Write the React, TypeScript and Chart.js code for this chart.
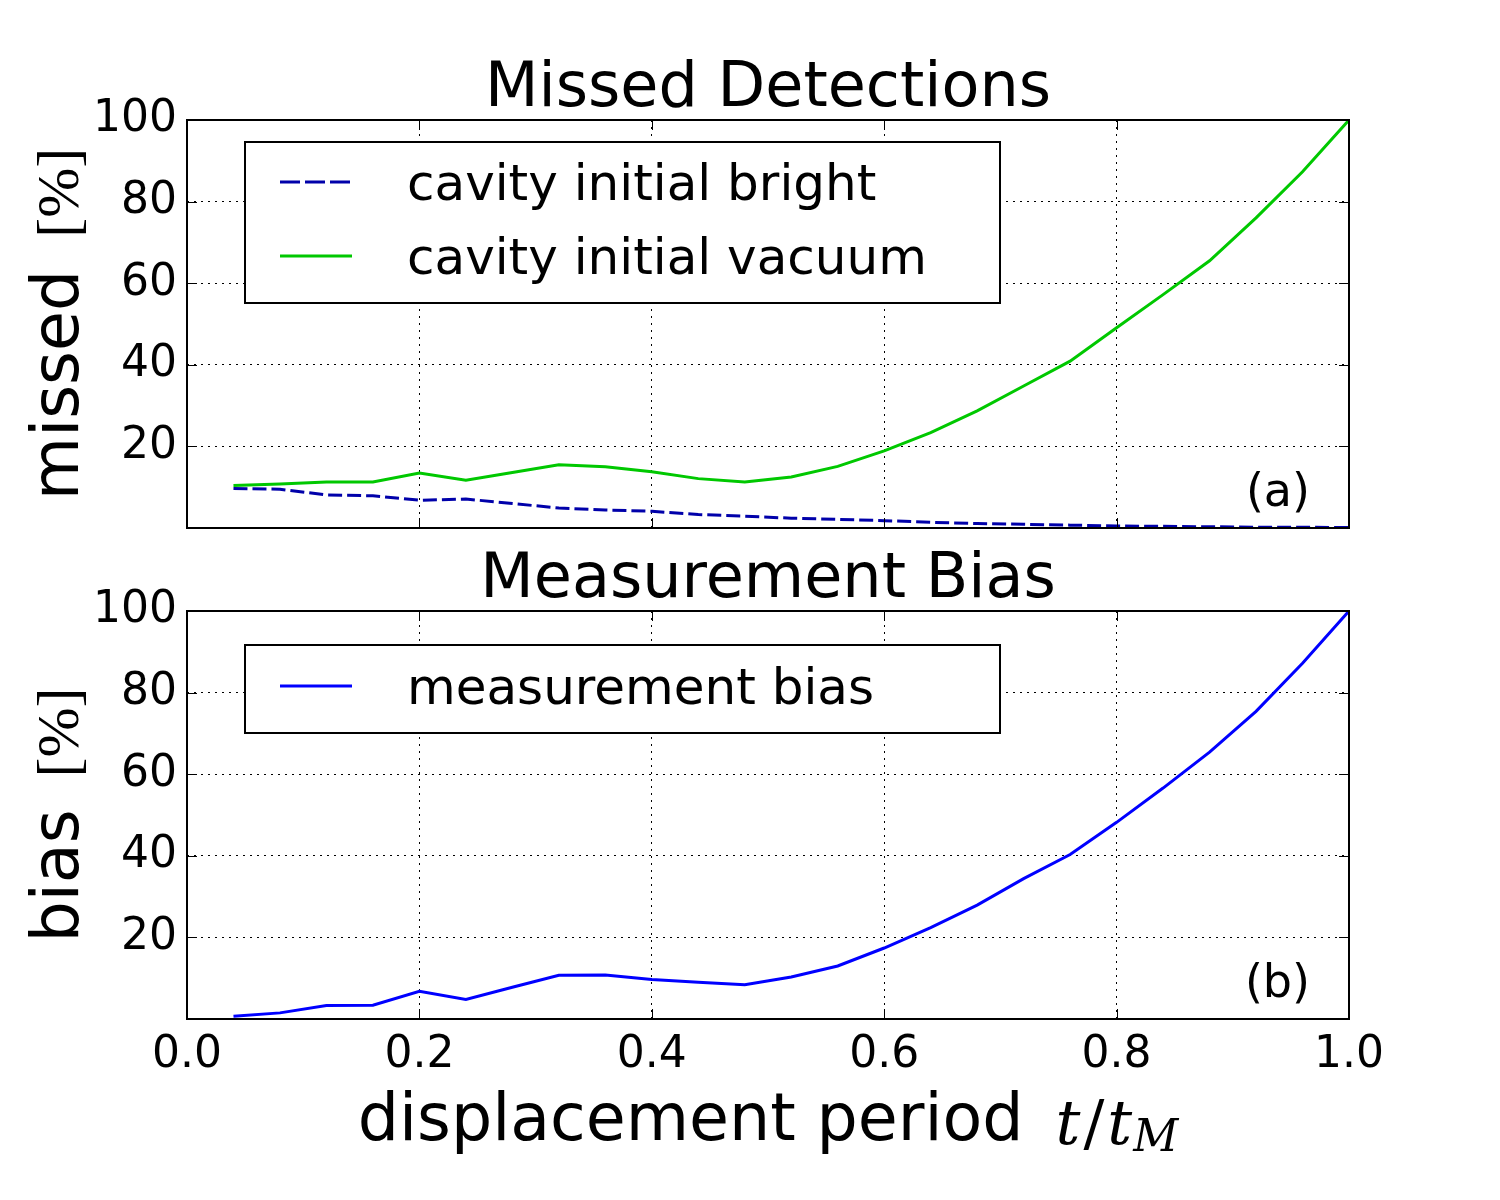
import React, { useEffect, useRef } from 'react';
import { Chart, registerables } from 'chart.js';

Chart.register(...registerables);

// ---------- data ----------
const tValues = [0.04, 0.08, 0.12, 0.16, 0.2, 0.24, 0.28, 0.32, 0.36, 0.4, 0.44, 0.48, 0.52, 0.56, 0.6, 0.64, 0.68, 0.72, 0.76, 0.8, 0.84, 0.88, 0.92, 0.96, 1.0];
const missedBright = [9.7, 9.5, 8.1, 7.9, 6.8, 7.1, 6.0, 4.9, 4.4, 4.1, 3.3, 2.9, 2.4, 2.1, 1.8, 1.4, 1.1, 0.9, 0.7, 0.5, 0.4, 0.3, 0.2, 0.2, 0.1];
const missedVacuum = [10.4, 10.8, 11.3, 11.3, 13.5, 11.7, 13.6, 15.5, 15.0, 13.8, 12.1, 11.3, 12.5, 15.1, 18.9, 23.4, 28.7, 34.8, 40.9, 49.1, 57.2, 65.5, 76.0, 87.3, 100];
const measurementBias = [0.65, 1.5, 3.3, 3.4, 6.8, 4.8, 7.8, 10.7, 10.8, 9.7, 9.0, 8.4, 10.3, 13.0, 17.4, 22.4, 27.9, 34.4, 40.3, 48.2, 56.6, 65.4, 75.4, 87.2, 100];

const xTickValues = [0, 0.2, 0.4, 0.6, 0.8, 1.0];
const xTickLabels = ['0.0', '0.2', '0.4', '0.6', '0.8', '1.0'];
const yTickValues = [20, 40, 60, 80, 100];
const yTickLabels = ['20', '40', '60', '80', '100'];

const seriesLabels = ['cavity initial bright', 'cavity initial vacuum', 'measurement bias'];
const seriesColors = ['#0000aa', '#00c800', '#0000ff'];

const SANS = '"DejaVu Sans"';
const SERIF = '"DejaVu Serif"';
const UNIT_SERIF = '"Liberation Serif"';

const toPoints = (ys: number[]) => tValues.map((t, i) => ({ x: t, y: ys[i] }));

// ---------- decoration plugin ----------
const decorPlugin = {
  id: 'decor',
  afterDatasetsDraw(chart: any, _args: any, opts: any) {
    const ctx = chart.ctx as CanvasRenderingContext2D;
    const { left, right, top, bottom } = chart.chartArea;
    const xs = chart.scales.x;
    const ys = chart.scales.y;
    ctx.save();

    // inward ticks on all sides
    ctx.strokeStyle = '#000';
    ctx.lineWidth = 1;
    ctx.setLineDash([]);
    const tl = 10;
    ctx.beginPath();
    xs.ticks.forEach((t: any) => {
      const px = Math.round(xs.getPixelForValue(t.value)) + 0.5;
      ctx.moveTo(px, bottom);
      ctx.lineTo(px, bottom - tl);
      ctx.moveTo(px, top);
      ctx.lineTo(px, top + tl);
    });
    ys.ticks.forEach((t: any) => {
      const py = Math.round(ys.getPixelForValue(t.value)) + 0.5;
      ctx.moveTo(left, py);
      ctx.lineTo(left + tl, py);
      ctx.moveTo(right, py);
      ctx.lineTo(right - tl, py);
    });
    ctx.stroke();

    // frame
    ctx.lineWidth = 2;
    ctx.strokeRect(left, top, right - left, bottom - top);

    // legend
    const lb = opts.legendBox;
    ctx.fillStyle = '#fff';
    ctx.fillRect(left + lb.dx, top + lb.dy, lb.w, lb.h);
    ctx.lineWidth = 2;
    ctx.strokeStyle = '#000';
    ctx.strokeRect(left + lb.dx, top + lb.dy, lb.w, lb.h);
    opts.legendItems.forEach((it: any) => {
      const y = top + it.rowY;
      ctx.beginPath();
      ctx.strokeStyle = it.color;
      ctx.lineWidth = 3;
      ctx.setLineDash(it.dash || []);
      ctx.moveTo(left + 93, y);
      ctx.lineTo(left + 165, y);
      ctx.stroke();
      ctx.setLineDash([]);
      ctx.fillStyle = '#000';
      ctx.font = `50px ${SANS}`;
      ctx.textAlign = 'left';
      ctx.textBaseline = 'alphabetic';
      ctx.fillText(it.label, left + 220, y + 18);
    });

    // panel label
    ctx.fillStyle = '#000';
    ctx.font = `46px ${SANS}`;
    ctx.textAlign = 'right';
    ctx.textBaseline = 'alphabetic';
    ctx.fillText(opts.panelLabel, right - 39, bottom - 22);

    // title
    ctx.font = `62px ${SANS}`;
    ctx.textAlign = 'center';
    ctx.fillText(opts.title, (left + right) / 2, top - 14);

    // y label: sans word + serif unit
    ctx.save();
    ctx.translate(left - 109, (top + bottom) / 2);
    ctx.rotate(-Math.PI / 2);
    ctx.textAlign = 'left';
    ctx.font = `65px ${SANS}`;
    const w1 = ctx.measureText(opts.yLabelMain).width;
    ctx.font = `60px ${UNIT_SERIF}`;
    const w2 = ctx.measureText(opts.yLabelUnit).width;
    const gap = 32;
    const x0 = -(w1 + gap + w2) / 2;
    ctx.font = `65px ${SANS}`;
    ctx.fillText(opts.yLabelMain, x0, 0);
    ctx.font = `60px ${UNIT_SERIF}`;
    ctx.fillText(opts.yLabelUnit, x0 + w1 + gap, 0);
    ctx.restore();

    // x label
    if (opts.xLabel) {
      const parts = [
        { text: 'displacement period', font: `65px ${SANS}`, dy: 0, after: 32 },
        { text: 't', font: `italic 62px ${SERIF}`, dy: 4, after: 3 },
        { text: '/', font: `62px ${SERIF}`, dy: 4, after: 3 },
        { text: 't', font: `italic 62px ${SERIF}`, dy: 4, after: 1 },
        { text: 'M', font: `italic 44px ${SERIF}`, dy: 11, after: 0 },
      ];
      let total = 0;
      const widths = parts.map((p) => {
        ctx.font = p.font;
        const w = ctx.measureText(p.text).width;
        total += w + p.after;
        return w;
      });
      let x = (left + right) / 2 - total / 2;
      const by = bottom + 121;
      ctx.textAlign = 'left';
      parts.forEach((p, i) => {
        ctx.font = p.font;
        ctx.fillText(p.text, x, by + p.dy);
        x += widths[i] + p.after;
      });
    }
    ctx.restore();
  },
};

// ---------- chart config builder ----------
function buildConfig(kind: 'top' | 'bottom', canvasH: number): any {
  const isTop = kind === 'top';
  const datasets = isTop
    ? [
        {
          label: seriesLabels[0],
          data: toPoints(missedBright),
          borderColor: seriesColors[0],
          borderDash: [14, 5],
          borderWidth: 3,
          pointRadius: 0,
          tension: 0,
          fill: false,
        },
        {
          label: seriesLabels[1],
          data: toPoints(missedVacuum),
          borderColor: seriesColors[1],
          borderWidth: 3,
          pointRadius: 0,
          tension: 0,
          fill: false,
        },
      ]
    : [
        {
          label: seriesLabels[2],
          data: toPoints(measurementBias),
          borderColor: seriesColors[2],
          borderWidth: 3,
          pointRadius: 0,
          tension: 0,
          fill: false,
        },
      ];

  // plot area: top panel y 120..528, bottom panel y 611..1019 (page coords)
  const padTop = isTop ? 120 : 611 - 540;
  const plotBottom = isTop ? 528 : 1019 - 540;
  return {
    type: 'line',
    data: { datasets },
    plugins: [decorPlugin],
    options: {
      animation: false,
      responsive: false,
      devicePixelRatio: 1,
      layout: {
        padding: { top: padTop, bottom: 0, left: 0, right: 151 },
      },
      scales: {
        x: {
          type: 'linear',
          min: 0,
          max: 1,
          afterBuildTicks: (s: any) => {
            s.ticks = xTickValues.map((v) => ({ value: v }));
          },
          afterFit: (s: any) => {
            s.height = canvasH - plotBottom;
          },
          ticks: {
            display: !isTop,
            callback: (_v: any, i: number) => xTickLabels[i],
            font: { family: 'DejaVu Sans', size: 44 },
            color: '#000',
            padding: 10,
            maxRotation: 0,
            autoSkip: false,
          },
          grid: {
            color: '#000',
            lineWidth: 1,
            drawTicks: false,
          },
          border: { display: false, dash: [2, 5] },
        },
        y: {
          type: 'linear',
          min: 0,
          max: 100,
          afterBuildTicks: (s: any) => {
            s.ticks = yTickValues.map((v) => ({ value: v }));
          },
          afterFit: (s: any) => {
            s.width = 187;
          },
          ticks: {
            callback: (_v: any, i: number) => yTickLabels[i],
            font: { family: 'DejaVu Sans', size: 44 },
            color: '#000',
            padding: 10,
            autoSkip: false,
          },
          grid: {
            color: '#000',
            lineWidth: 1,
            drawTicks: false,
          },
          border: { display: false, dash: [2, 5] },
        },
      },
      plugins: {
        legend: { display: false },
        title: { display: false },
        tooltip: { enabled: false },
        decor: isTop
          ? {
              title: 'Missed Detections',
              yLabelMain: 'missed',
              yLabelUnit: '[%]',
              panelLabel: '(a)',
              xLabel: false,
              legendBox: { dx: 58, dy: 22, w: 755, h: 161 },
              legendItems: [
                { label: seriesLabels[0], color: seriesColors[0], dash: [20, 5], rowY: 62 },
                { label: seriesLabels[1], color: seriesColors[1], rowY: 136 },
              ],
            }
          : {
              title: 'Measurement Bias',
              yLabelMain: 'bias',
              yLabelUnit: '[%]',
              panelLabel: '(b)',
              xLabel: true,
              legendBox: { dx: 58, dy: 34, w: 755, h: 88 },
              legendItems: [{ label: seriesLabels[2], color: seriesColors[2], rowY: 75 }],
            },
      },
    },
  };
}

function Panel({ kind, top, height }: { kind: 'top' | 'bottom'; top: number; height: number }) {
  const ref = useRef<HTMLCanvasElement | null>(null);
  useEffect(() => {
    if (!ref.current) return;
    const chart = new Chart(ref.current, buildConfig(kind, height));
    return () => chart.destroy();
  }, [kind, height]);
  return (
    <canvas
      ref={ref}
      width={1500}
      height={height}
      style={{ position: 'absolute', left: 0, top, width: 1500, height, display: 'block' }}
    />
  );
}

export default function App() {
  return (
    <div style={{ position: 'absolute', left: 0, top: 0, width: 1500, height: 1200, background: '#fff' }}>
      <Panel kind="top" top={0} height={570} />
      <Panel kind="bottom" top={540} height={660} />
    </div>
  );
}
